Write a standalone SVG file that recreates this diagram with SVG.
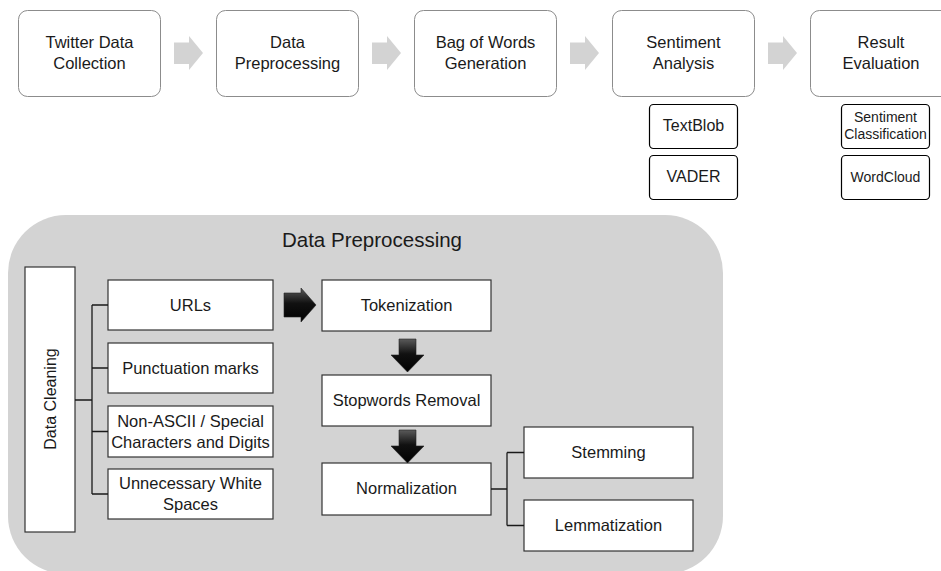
<svg xmlns="http://www.w3.org/2000/svg" width="941" height="571" viewBox="0 0 941 571">
  <defs>
    <linearGradient id="darkV" x1="0" y1="0" x2="0" y2="1">
      <stop offset="0" stop-color="#5a5a5a"/>
      <stop offset="0.45" stop-color="#111"/>
      <stop offset="1" stop-color="#000"/>
    </linearGradient>
  </defs>
  <style>
    text { font-family: "Liberation Sans", Arial, sans-serif; fill: #1a1a1a; text-anchor: middle; }
    .stage { fill: #ffffff; stroke: #8c8c8c; stroke-width: 1; }
    .tool { fill: #ffffff; stroke: #000000; stroke-width: 1.2; }
    .step { fill: #ffffff; stroke: #333333; stroke-width: 1.2; }
    .t16 { font-size: 16.5px; }
    .t15 { font-size: 16px; }
    .t14 { font-size: 14px; }
    .t17 { font-size: 16.5px; }
    .flow { fill: #d3d3d3; }
    .link { fill: none; stroke: #1a1a1a; stroke-width: 1.3; }
    .dark { fill: url(#darkV); stroke: #222; stroke-width: 0.6; }
  </style>

  <!-- pipeline stages -->
  <g id="stage-collection">
    <rect class="stage" x="18.5" y="10.5" width="142" height="86" rx="9"/>
    <text class="t16" x="89.5" y="48">Twitter Data</text>
    <text class="t16" x="89.5" y="69">Collection</text>
  </g>
  <g id="stage-preprocessing">
    <rect class="stage" x="216.5" y="10.5" width="142" height="86" rx="9"/>
    <text class="t16" x="287.5" y="48">Data</text>
    <text class="t16" x="287.5" y="69">Preprocessing</text>
  </g>
  <g id="stage-bow">
    <rect class="stage" x="414.5" y="10.5" width="142" height="86" rx="9"/>
    <text class="t16" x="485.5" y="48">Bag of Words</text>
    <text class="t16" x="485.5" y="69">Generation</text>
  </g>
  <g id="stage-sentiment">
    <rect class="stage" x="612.5" y="10.5" width="142" height="86" rx="9"/>
    <text class="t16" x="683.5" y="48">Sentiment</text>
    <text class="t16" x="683.5" y="69">Analysis</text>
  </g>
  <g id="stage-result">
    <rect class="stage" x="810.5" y="10.5" width="142" height="86" rx="9"/>
    <text class="t16" x="881" y="48">Result</text>
    <text class="t16" x="881" y="69">Evaluation</text>
  </g>

  <!-- tools under stages -->
  <g id="tool-textblob">
    <rect class="tool" x="649.5" y="104.5" width="88" height="44" rx="4"/>
    <text class="t15" x="693.5" y="131">TextBlob</text>
  </g>
  <g id="tool-vader">
    <rect class="tool" x="649.5" y="155.5" width="88" height="44" rx="4"/>
    <text class="t15" x="693.5" y="182">VADER</text>
  </g>
  <g id="tool-classification">
    <rect class="tool" x="841.5" y="104.5" width="88" height="44" rx="4"/>
    <text class="t14" x="885.5" y="122">Sentiment</text>
    <text class="t14" x="885.5" y="139">Classification</text>
  </g>
  <g id="tool-wordcloud">
    <rect class="tool" x="841.5" y="155.5" width="88" height="44" rx="4"/>
    <text class="t14" x="885.5" y="182">WordCloud</text>
  </g>

  <!-- preprocessing panel -->
  <g id="panel-preprocessing">
    <rect x="8" y="215" width="715" height="359" rx="58" fill="#d3d3d3"/>
    <text x="372" y="247" style="font-size:20.5px">Data Preprocessing</text>
  </g>

  <g id="data-cleaning">
    <rect class="step" x="25" y="267" width="50" height="265"/>
    <text class="t15" transform="translate(56 399) rotate(-90)">Data Cleaning</text>
  </g>
  <g id="clean-urls">
    <rect class="step" x="108" y="280" width="165" height="50"/>
    <text class="t17" x="190.5" y="311">URLs</text>
  </g>
  <g id="clean-punctuation">
    <rect class="step" x="108" y="343" width="165" height="50"/>
    <text class="t17" x="190.5" y="374">Punctuation marks</text>
  </g>
  <g id="clean-nonascii">
    <rect class="step" x="108" y="406" width="165" height="51"/>
    <text class="t17" x="190.5" y="427">Non-ASCII / Special</text>
    <text class="t17" x="190.5" y="448">Characters and Digits</text>
  </g>
  <g id="clean-whitespace">
    <rect class="step" x="108" y="469" width="165" height="50"/>
    <text class="t17" x="190.5" y="489">Unnecessary White</text>
    <text class="t17" x="190.5" y="510">Spaces</text>
  </g>

  <g id="tokenization">
    <rect class="step" x="322" y="280" width="169" height="51"/>
    <text class="t17" x="406.5" y="311">Tokenization</text>
  </g>
  <g id="stopwords">
    <rect class="step" x="322" y="375" width="169" height="51"/>
    <text class="t17" x="406.5" y="406">Stopwords Removal</text>
  </g>
  <g id="normalization">
    <rect class="step" x="322" y="463" width="169" height="52"/>
    <text class="t17" x="406.5" y="494">Normalization</text>
  </g>
  <g id="stemming">
    <rect class="step" x="524" y="427" width="169" height="51"/>
    <text class="t17" x="608.5" y="458">Stemming</text>
  </g>
  <g id="lemmatization">
    <rect class="step" x="524" y="500" width="169" height="51"/>
    <text class="t17" x="608.5" y="531">Lemmatization</text>
  </g>

  <!-- connectors -->
  <g id="connectors">
    <!-- block arrows between stages -->
    <path class="flow" d="M174 42.5 H189 V36 L203 53 L189 70 V64 H174 Z"/>
    <path class="flow" d="M372 42.5 H387 V36 L401 53 L387 70 V64 H372 Z"/>
    <path class="flow" d="M570 42.5 H585 V36 L599 53 L585 70 V64 H570 Z"/>
    <path class="flow" d="M768 42.5 H783 V36 L797 53 L783 70 V64 H768 Z"/>

    <!-- cleaning bracket -->
    <path class="link" d="M75 400 H92 M92 305 V494 M92 305 H108 M92 368 H108 M92 431.5 H108 M92 494 H108"/>
    <!-- normalization bracket -->
    <path class="link" d="M491 489 H507 M507 452.5 V525.5 M507 452.5 H524 M507 525.5 H524"/>

    <!-- dark block arrows -->
    <path class="dark" d="M284 293 H301 V288 L316 305 L301 322 V317 H284 Z"/>
    <path class="dark" d="M399 339 H416 V355 H424 L407.5 372 L391 355 H399 Z"/>
    <path class="dark" d="M399 430 H416 V446 H424 L407.5 463 L391 446 H399 Z"/>
  </g>
</svg>
